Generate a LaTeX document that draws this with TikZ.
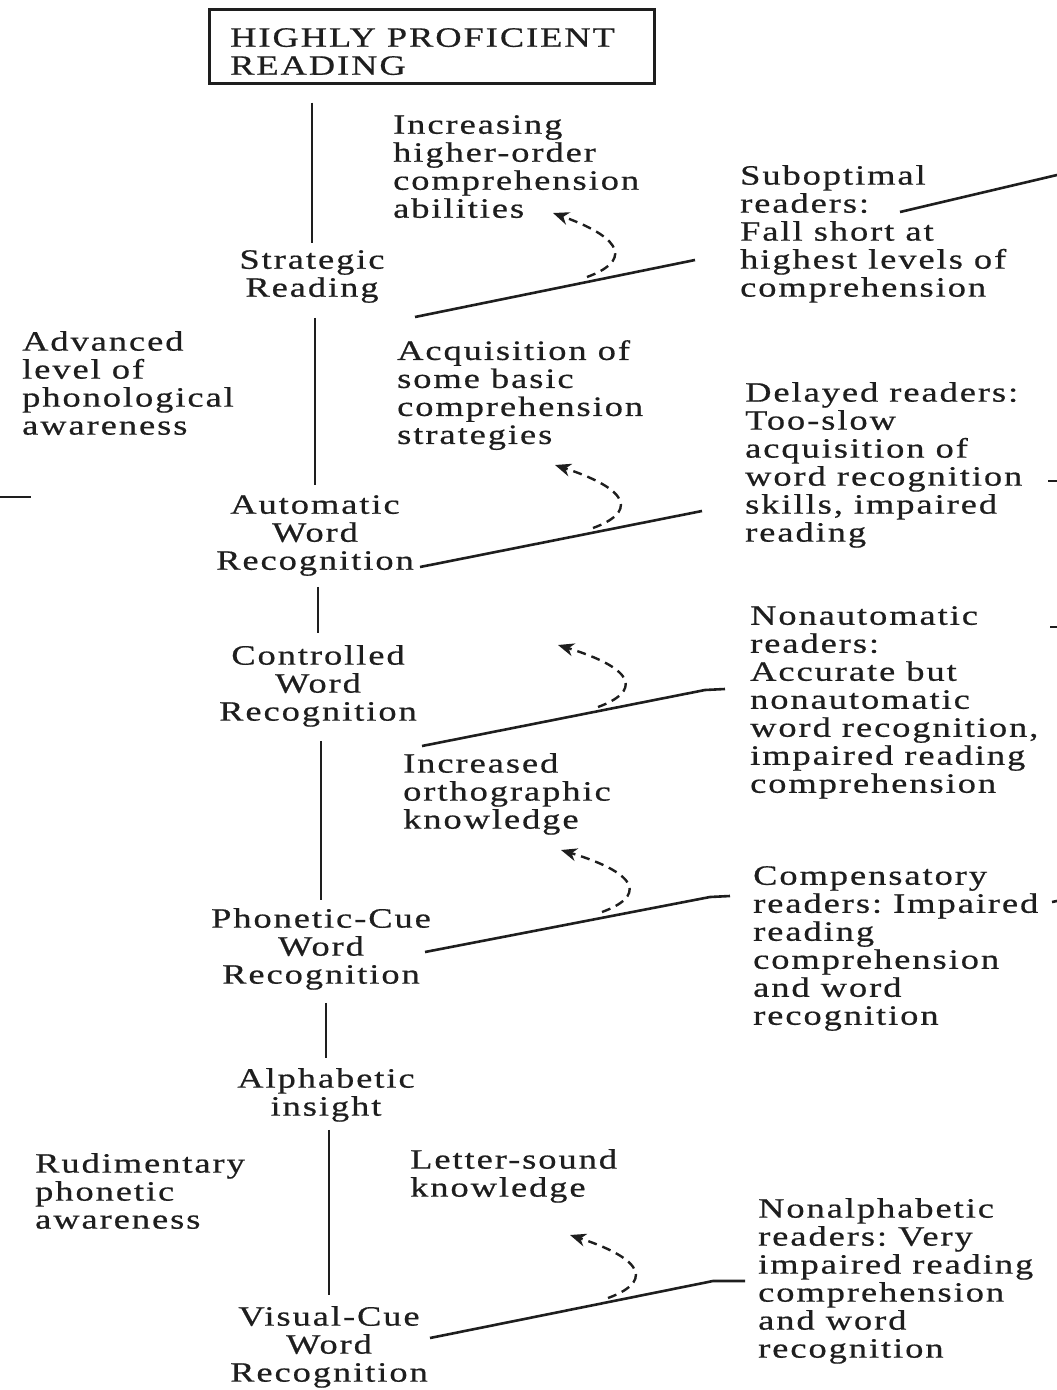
\documentclass[tikz,border=0pt]{standalone}
\usepackage{fontspec}
\setmainfont{Liberation Serif}[FakeStretch=1.3, LetterSpace=7, FakeBold=0.6]
\usetikzlibrary{arrows.meta,calc}
\definecolor{ink}{HTML}{1E1E1E}
\frenchspacing
\begin{document}
\begin{tikzpicture}[x=1pt, y=-1pt,
  txt/.style={font=\fontsize{28}{28}\selectfont, text=ink, inner sep=0pt, align=left, anchor=north west},
  stage/.style={txt, align=center, anchor=north},
  vline/.style={draw=ink, line width=2.6pt},
  slant/.style={draw=ink, line width=2.6pt, line join=round},
  loop/.style={draw=ink, line width=2.4pt, dash pattern=on 9pt off 6pt,
               -{Stealth[length=16pt, width=13pt, inset=5pt]}},
  frame/.style={draw=ink, line width=2.6pt, minimum width=445pt, minimum height=74pt,
                inner sep=0pt, anchor=north west}]
\useasboundingbox (0,0) rectangle (1057,1390);

% title box
\node[frame] (frame) at (208,8) {};
\node[txt] (top) at (230,28) {HIGHLY PROFICIENT\\READING};

% stages of word recognition along the central spine
\node[stage] (strat) at (312,250) {Strategic\\Reading};
\node[stage] (auto)  at (315,495) {Automatic\\Word\\Recognition};
\node[stage] (ctrl)  at (318,645) {Controlled\\Word\\Recognition};
\node[stage] (phon)  at (321,908) {Phonetic-Cue\\Word\\Recognition};
\node[stage] (alph)  at (326,1068) {Alphabetic\\insight};
\node[stage] (vis)   at (329,1306) {Visual-Cue\\Word\\Recognition};

% spine segments
\draw[vline] ($(frame.south -| strat.north)+(0,18)$) -- ($(strat.north)+(0,-7)$);
\draw[vline] ($(strat.south -| auto.north)+(0,15)$) -- ($(auto.north)+(0,-10)$);
\draw[vline] ($(auto.south -| ctrl.north)+(0,11)$) -- ($(ctrl.north)+(0,-12)$);
\draw[vline] ($(ctrl.south -| phon.north)+(0,14)$) -- ($(phon.north)+(0,-8)$);
\draw[vline] ($(phon.south -| alph.north)+(0,13)$) -- ($(alph.north)+(0,-10)$);
\draw[vline] ($(alph.south -| vis.north)+(0,8)$) -- ($(vis.north)+(0,-11)$);

% skills acquired between stages
\node[txt] (inc)  at (393,115) {Increasing\\higher-order\\comprehension\\abilities};
\node[txt] (acq)  at (397,340) {Acquisition of\\some basic\\comprehension\\strategies};
\node[txt] (orth) at (403,753) {Increased\\orthographic\\knowledge};
\node[txt] (lsk)  at (410,1149) {Letter-sound\\knowledge};

% phonological awareness levels
\node[txt] (adv) at (22,331) {Advanced\\level of\\phonological\\awareness};
\node[txt] (rud) at (35,1153) {Rudimentary\\phonetic\\awareness};

% reader types
\node[txt] (sub)   at (740,165) {Suboptimal\\readers:\\Fall short at\\highest levels of\\comprehension};
\node[txt] (del)   at (745,382) {Delayed readers:\\Too-slow\\acquisition of\\word recognition\\skills, impaired\\reading};
\node[txt] (nonau) at (750,606) {Nonautomatic\\readers:\\Accurate but\\nonautomatic\\word recognition,\\impaired reading\\comprehension};
\node[txt] (comp)  at (753,866) {Compensatory\\readers: Impaired\\reading\\comprehension\\and word\\recognition};
\node[txt] (nonal) at (758,1198) {Nonalphabetic\\readers: Very\\impaired reading\\comprehension\\and word\\recognition};

% branch lines towards the reader types
\coordinate (b1s) at (415,317);  \coordinate (b1e) at (695,260);
\coordinate (b2s) at (420,567);  \coordinate (b2e) at (702,511);
\coordinate (b3s) at (422,746);  \coordinate (b3k) at (705,690); \coordinate (b3e) at (725,689);
\coordinate (b4s) at (425,952);  \coordinate (b4k) at (710,897); \coordinate (b4e) at (730,896);
\coordinate (b5s) at (430,1338); \coordinate (b5k) at (713,1281); \coordinate (b5e) at (745,1281);
\draw[slant] (b1s) -- (b1e);
\draw[slant] (b2s) -- (b2e);
\draw[slant] (b3s) -- (b3k) -- (b3e);
\draw[slant] (b4s) -- (b4k) -- (b4e);
\draw[slant] (b5s) -- (b5k) -- (b5e);

% dashed loops from each branch up to the acquired skill
\coordinate (l1s) at (587,277);  \coordinate (l1e) at (553,213);
\coordinate (l2s) at (593,528);  \coordinate (l2e) at (555,465);
\coordinate (l3s) at (598,707);  \coordinate (l3e) at (558,645);
\coordinate (l4s) at (602,912);  \coordinate (l4e) at (561,850);
\coordinate (l5s) at (608,1298); \coordinate (l5e) at (570,1235);
\foreach \k in {1,...,5}{
  \draw[loop] (l\k s) .. controls ($(l\k s)+(41,-15)$) and ($(l\k s)+(41,-37)$) .. (l\k e);
}

% strokes running off the edges
\coordinate (r0s) at (900,212); \coordinate (r0e) at (1057,175);
\draw[slant] (r0s) -- (r0e);
\coordinate (l0s) at (0,497); \coordinate (l0e) at (31,497);
\draw[slant] (l0s) -- (l0e);
\coordinate (t1s) at (1048,481); \coordinate (t1e) at (1057,481);
\coordinate (t2s) at (1050,627); \coordinate (t2e) at (1057,627);
\coordinate (t3s) at (1052,902); \coordinate (t3e) at (1057,901);
\draw[slant] (t1s) -- (t1e);
\draw[slant] (t2s) -- (t2e);
\draw[slant] (t3s) -- (t3e);
\end{tikzpicture}
\end{document}
